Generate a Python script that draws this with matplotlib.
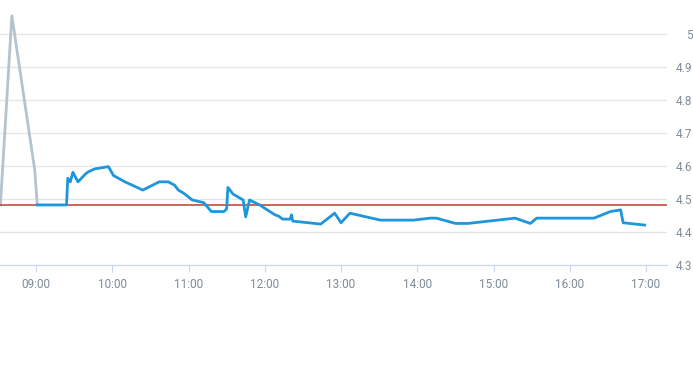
# intraday price line with reference level
import pandas as pd
import numpy as np
import matplotlib.pyplot as plt
import matplotlib.dates as mdates

plt.rcParams['font.family'] = ['Roboto', 'DejaVu Sans']

day = "2024-01-02 "
pre_times = ["08:32", "08:41", "08:59", "09:01"]
pre_vals = [4.482, 5.055, 4.588, 4.482]

times = ["09:01", "09:24", "09:25", "09:27", "09:29", "09:33", "09:39", "09:41",
         "09:46", "09:57", "10:01", "10:10", "10:24", "10:37", "10:44", "10:49",
         "10:52", "10:56", "11:03", "11:12", "11:18", "11:28", "11:30", "11:31",
         "11:35", "11:43", "11:45", "11:48", "11:56", "12:08", "12:11", "12:14",
         "12:20", "12:21", "12:22", "12:44", "12:55", "13:00", "13:07", "13:31",
         "13:57", "14:10", "14:15", "14:30", "14:40", "15:17", "15:29", "15:34",
         "16:19", "16:32", "16:40", "16:42", "16:59"]
vals = [4.482, 4.482, 4.563, 4.552, 4.581, 4.552, 4.576, 4.582,
        4.591, 4.598, 4.571, 4.552, 4.527, 4.552, 4.552, 4.542,
        4.527, 4.518, 4.497, 4.489, 4.462, 4.462, 4.470, 4.535,
        4.515, 4.497, 4.446, 4.497, 4.482, 4.452, 4.448, 4.439,
        4.439, 4.452, 4.433, 4.424, 4.457, 4.428, 4.457, 4.436,
        4.436, 4.442, 4.442, 4.426, 4.426, 4.442, 4.426, 4.442,
        4.442, 4.462, 4.467, 4.428, 4.421]
ref_level = 4.482
yticks = [4.3, 4.4, 4.5, 4.6, 4.7, 4.8, 4.9, 5]
ytick_labels = ["4.3", "4.4", "4.5", "4.6", "4.7", "4.8", "4.9", "5"]
xtick_hours = ["09:00", "10:00", "11:00", "12:00", "13:00", "14:00", "15:00", "16:00", "17:00"]

pre_t = pd.to_datetime([day + t for t in pre_times])
t = pd.to_datetime([day + s for s in times])
xt = pd.to_datetime([day + s for s in xtick_hours])

fig = plt.figure(figsize=(6.93, 3.65), dpi=100)
ax = fig.add_axes([0, 100 / 365, 667 / 693, 265 / 365])

ax.axhline(ref_level, color="#c0392b", lw=1.1, zorder=3)
ax.plot(pre_t, pre_vals, color="#b4c3cd", lw=2, zorder=2)
ax.plot(t, vals, color="#1e96dc", lw=2, zorder=4)

ax.set_xlim(pd.Timestamp(day + "08:31:40"), pd.Timestamp(day + "17:16:30"))
ax.set_ylim(4.3, 5.103)

ax.set_yticks(yticks)
ax.set_yticklabels(ytick_labels)
ax.yaxis.tick_right()
# right-aligned labels ending just inside the image edge
ax.tick_params(axis="y", length=0, pad=18.2, labelsize=8.5, labelcolor="#7f8b98")
for lab in ax.get_yticklabels():
    lab.set_horizontalalignment("right")
ax.grid(axis="y", color="#e6e6e6", lw=1)

ax.set_xticks(xt)
ax.xaxis.set_major_formatter(mdates.DateFormatter("%H:%M"))
ax.tick_params(axis="x", length=5, color="#ccd6eb", pad=4, labelsize=8.5, labelcolor="#7f8b98")

for s in ["top", "left", "right"]:
    ax.spines[s].set_visible(False)
ax.spines["bottom"].set_color("#ccd6eb")
ax.set_axisbelow(True)

fig.savefig("out.png", dpi=100)
